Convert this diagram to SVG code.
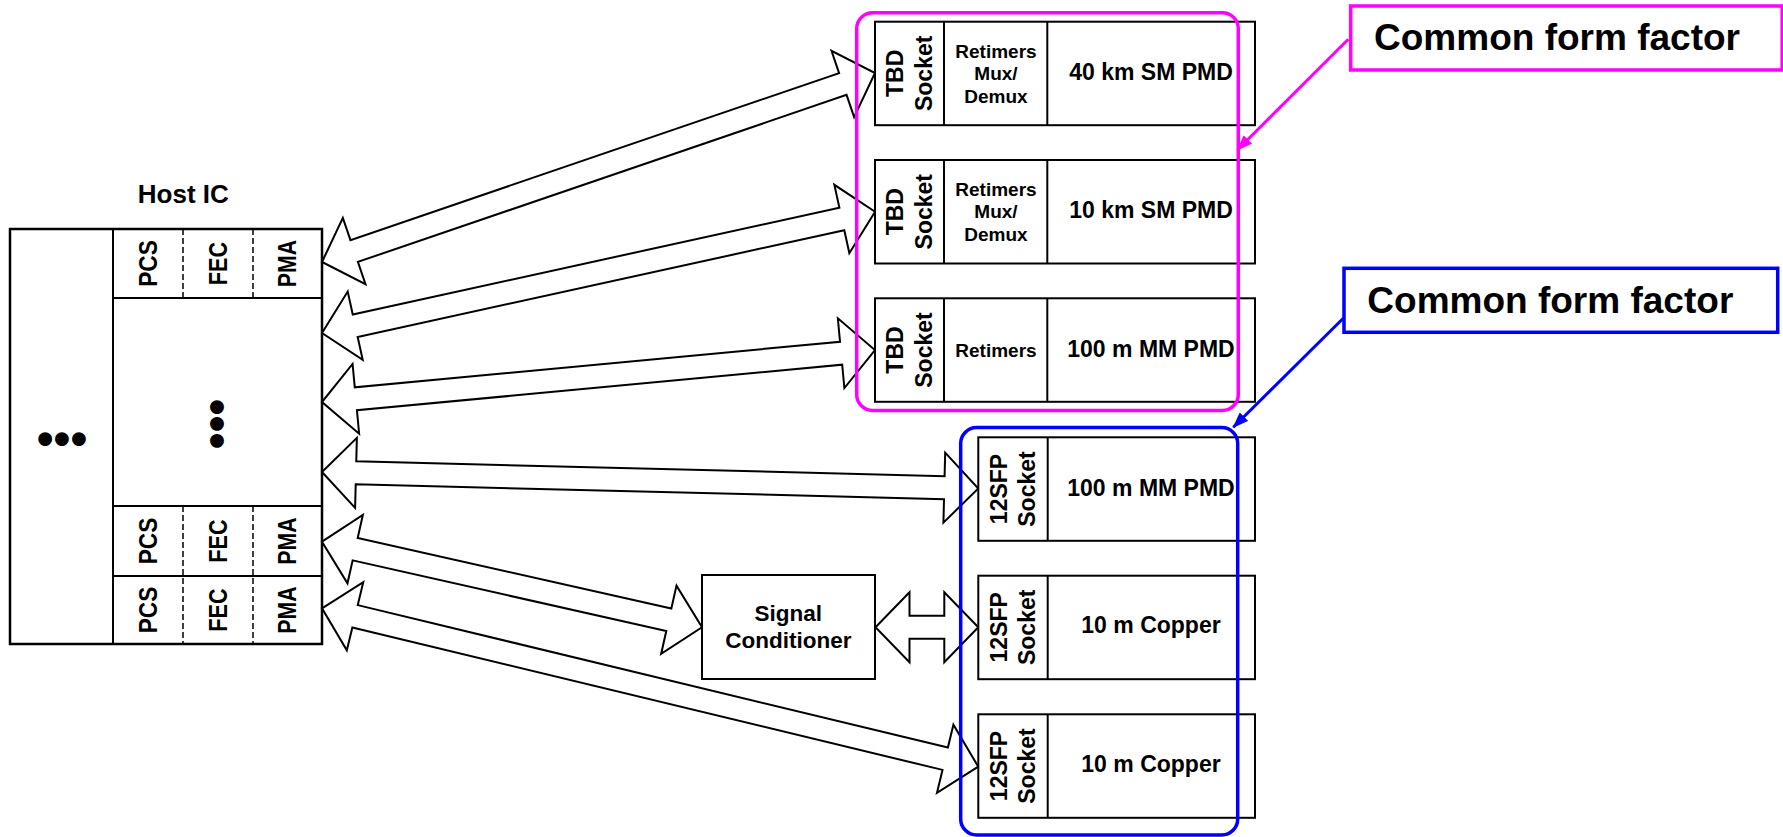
<svg xmlns="http://www.w3.org/2000/svg" width="1783" height="837" viewBox="0 0 1783 837">
<style>
text{font-family:"Liberation Sans",Arial,Helvetica,sans-serif;font-weight:bold;fill:#000}
.box{fill:#fff;stroke:#000;stroke-width:2}
.hbox{fill:#fff;stroke:#000;stroke-width:2.5}
.div{stroke:#000;stroke-width:2;fill:none}
.dash{stroke:#000;stroke-width:1.5;stroke-dasharray:6 3;fill:none}
.arr{fill:#fff;stroke:#000;stroke-width:2;stroke-linejoin:miter}
.lay{font-size:23px;text-anchor:middle}
.hl{font-size:25px;text-anchor:middle}
.mid{text-anchor:middle}
.pmd{font-size:23px;text-anchor:middle}
.ret{font-size:19px;text-anchor:middle}
.cff{font-size:36px}
</style>
<defs>
<marker id="mkM" viewBox="0 0 16 12" refX="15" refY="6" markerWidth="16" markerHeight="12" orient="auto" markerUnits="userSpaceOnUse"><path d="M0,0 L16,6 L0,12 Z" fill="#ff00ff"/></marker>
<marker id="mkB" viewBox="0 0 16 12" refX="15" refY="6" markerWidth="16" markerHeight="12" orient="auto" markerUnits="userSpaceOnUse"><path d="M0,0 L16,6 L0,12 Z" fill="#0000ff"/></marker>
</defs>

<g id="host-ic">
<text x="183.3" y="202.7" style="font-size:26px" text-anchor="middle">Host IC</text>
<rect class="hbox" x="10" y="229" width="312" height="415"/>
<line class="div" x1="113" y1="229" x2="113" y2="644"/>
<line class="div" x1="113" y1="298" x2="322" y2="298"/>
<line class="div" x1="113" y1="506" x2="322" y2="506"/>
<line class="div" x1="113" y1="576" x2="322" y2="576"/>
<line class="dash" x1="183" y1="229" x2="183" y2="298"/>
<line class="dash" x1="253" y1="229" x2="253" y2="298"/>
<line class="dash" x1="183" y1="506" x2="183" y2="644"/>
<line class="dash" x1="253" y1="506" x2="253" y2="644"/>
<text class="hl" transform="translate(148,263.5) rotate(-90)" y="8.5" textLength="46.7" lengthAdjust="spacingAndGlyphs">PCS</text>
<text class="hl" transform="translate(218,263.5) rotate(-90)" y="8.5" textLength="43.3" lengthAdjust="spacingAndGlyphs">FEC</text>
<text class="hl" transform="translate(287.5,263.5) rotate(-90)" y="8.5" textLength="47.3" lengthAdjust="spacingAndGlyphs">PMA</text>
<text class="hl" transform="translate(148,541) rotate(-90)" y="8.5" textLength="46.7" lengthAdjust="spacingAndGlyphs">PCS</text>
<text class="hl" transform="translate(218,541) rotate(-90)" y="8.5" textLength="43.3" lengthAdjust="spacingAndGlyphs">FEC</text>
<text class="hl" transform="translate(287.5,541) rotate(-90)" y="8.5" textLength="47.3" lengthAdjust="spacingAndGlyphs">PMA</text>
<text class="hl" transform="translate(148,610) rotate(-90)" y="8.5" textLength="46.7" lengthAdjust="spacingAndGlyphs">PCS</text>
<text class="hl" transform="translate(218,610) rotate(-90)" y="8.5" textLength="43.3" lengthAdjust="spacingAndGlyphs">FEC</text>
<text class="hl" transform="translate(287.5,610) rotate(-90)" y="8.5" textLength="47.3" lengthAdjust="spacingAndGlyphs">PMA</text>
<text x="62" y="455" style="font-size:48px" text-anchor="middle">•••</text>
<text transform="translate(217,424) rotate(90)" y="16" style="font-size:48px" text-anchor="middle">•••</text>
</g>

<g id="connectors">
<path class="arr" transform="translate(322,262) rotate(-18.87)" d="M0,0 L34,-35 L34,-11.5 L550.4,-11.5 L550.4,-35 L584.4,0 L550.4,35 L550.4,11.5 L34,11.5 L34,35 Z"/>
<path class="arr" transform="translate(322,333) rotate(-12.37)" d="M0,0 L34,-35 L34,-11.5 L532.2,-11.5 L532.2,-35 L566.2,0 L532.2,35 L532.2,11.5 L34,11.5 L34,35 Z"/>
<path class="arr" transform="translate(322,402) rotate(-5.37)" d="M0,0 L34,-35 L34,-11.5 L521.4,-11.5 L521.4,-35 L555.4,0 L521.4,35 L521.4,11.5 L34,11.5 L34,35 Z"/>
<path class="arr" transform="translate(322,472) rotate(1.44)" d="M0,0 L34,-35 L34,-11.5 L622.5,-11.5 L622.5,-35 L656.5,0 L622.5,35 L622.5,11.5 L34,11.5 L34,35 Z"/>
<path class="arr" transform="translate(322,541.7) rotate(12.69)" d="M0,0 L34,-35 L34,-11.5 L355.5,-11.5 L355.5,-35 L389.5,0 L355.5,35 L355.5,11.5 L34,11.5 L34,35 Z"/>
<path class="arr" transform="translate(322,608.3) rotate(13.57)" d="M0,0 L34,-35 L34,-11.5 L641.1,-11.5 L641.1,-35 L675.1,0 L641.1,35 L641.1,11.5 L34,11.5 L34,35 Z"/>
<path class="arr" transform="translate(875.5,627.3)" d="M0,0 L34,-35 L34,-11.5 L68.8,-11.5 L68.8,-35 L102.8,0 L68.8,35 L68.8,11.5 L34,11.5 L34,35 Z"/>
</g>

<g id="signal-conditioner">
<rect class="box" x="702" y="575" width="173" height="104"/>
<text class="mid" x="788.3" y="621" style="font-size:22.5px">Signal</text>
<text class="mid" x="788.3" y="648.3" style="font-size:22.5px">Conditioner</text>
</g>

<g id="module-40km">
<rect class="box" x="875" y="21.7" width="380" height="103.5"/>
<line class="div" x1="944" y1="21.7" x2="944" y2="125.2"/>
<line class="div" x1="1047.3" y1="21.7" x2="1047.3" y2="125.2"/>
<text class="lay" transform="translate(909.5,73.3) rotate(-90)"><tspan x="0" y="-6.5">TBD</tspan><tspan x="0" y="22.2">Socket</tspan></text>
<text class="ret"><tspan x="996" y="57.5">Retimers</tspan><tspan x="996" y="80">Mux/</tspan><tspan x="996" y="102.5">Demux</tspan></text>
<text class="pmd" x="1151" y="80">40 km SM PMD</text>
</g>

<g id="module-10km">
<rect class="box" x="875" y="160" width="380" height="103.5"/>
<line class="div" x1="944" y1="160" x2="944" y2="263.5"/>
<line class="div" x1="1047.3" y1="160" x2="1047.3" y2="263.5"/>
<text class="lay" transform="translate(909.5,211.7) rotate(-90)"><tspan x="0" y="-6.5">TBD</tspan><tspan x="0" y="22.2">Socket</tspan></text>
<text class="ret"><tspan x="996" y="195.8">Retimers</tspan><tspan x="996" y="218.3">Mux/</tspan><tspan x="996" y="240.8">Demux</tspan></text>
<text class="pmd" x="1151" y="218.3">10 km SM PMD</text>
</g>

<g id="module-100m-tbd">
<rect class="box" x="875" y="298.3" width="380" height="103.5"/>
<line class="div" x1="944" y1="298.3" x2="944" y2="401.8"/>
<line class="div" x1="1047.3" y1="298.3" x2="1047.3" y2="401.8"/>
<text class="lay" transform="translate(909.5,350) rotate(-90)"><tspan x="0" y="-6.5">TBD</tspan><tspan x="0" y="22.2">Socket</tspan></text>
<text class="ret" x="996" y="356.7">Retimers</text>
<text class="pmd" x="1151" y="356.7">100 m MM PMD</text>
</g>

<g id="module-100m-sfp">
<rect class="box" x="978.3" y="437.3" width="276.7" height="103.5"/>
<line class="div" x1="1047.7" y1="437.3" x2="1047.7" y2="540.8"/>
<text class="lay" transform="translate(1013,489) rotate(-90)"><tspan x="0" y="-6.5">12SFP</tspan><tspan x="0" y="22">Socket</tspan></text>
<text class="pmd" x="1151" y="496">100 m MM PMD</text>
</g>

<g id="module-copper-1">
<rect class="box" x="978.3" y="575.7" width="276.7" height="103.5"/>
<line class="div" x1="1047.7" y1="575.7" x2="1047.7" y2="679.2"/>
<text class="lay" transform="translate(1013,627.3) rotate(-90)"><tspan x="0" y="-6.5">12SFP</tspan><tspan x="0" y="22">Socket</tspan></text>
<text class="pmd" x="1151" y="633.3">10 m Copper</text>
</g>

<g id="module-copper-2">
<rect class="box" x="978.3" y="714.3" width="276.7" height="103.5"/>
<line class="div" x1="1047.7" y1="714.3" x2="1047.7" y2="817.8"/>
<text class="lay" transform="translate(1013,766) rotate(-90)"><tspan x="0" y="-6.5">12SFP</tspan><tspan x="0" y="22">Socket</tspan></text>
<text class="pmd" x="1151" y="772.3">10 m Copper</text>
</g>

<g id="group-tbd">
<rect x="856.7" y="12.7" width="381.6" height="397.8" rx="16" fill="none" stroke="#ff00ff" stroke-width="3.5"/>
</g>
<g id="group-sfp">
<rect x="960.7" y="427.5" width="277" height="407.5" rx="16" fill="none" stroke="#0000ff" stroke-width="3.5"/>
</g>

<g id="callout-magenta">
<rect x="1350.7" y="6" width="431.5" height="64" fill="#fff" stroke="#ff00ff" stroke-width="3.5"/>
<text class="cff" x="1374" y="50" textLength="366" lengthAdjust="spacingAndGlyphs">Common form factor</text>
</g>
<g id="callout-blue">
<rect x="1344" y="268.3" width="433.7" height="64" fill="#fff" stroke="#0000ff" stroke-width="3.5"/>
<text class="cff" x="1367.3" y="313.3" textLength="366" lengthAdjust="spacingAndGlyphs">Common form factor</text>
</g>

<g id="callout-connectors">
<line x1="1348.3" y1="39.3" x2="1237.3" y2="150" stroke="#ff00ff" stroke-width="3" marker-end="url(#mkM)"/>
<line x1="1343.3" y1="318.3" x2="1233.3" y2="427.3" stroke="#0000ff" stroke-width="3" marker-end="url(#mkB)"/>
</g>
</svg>
